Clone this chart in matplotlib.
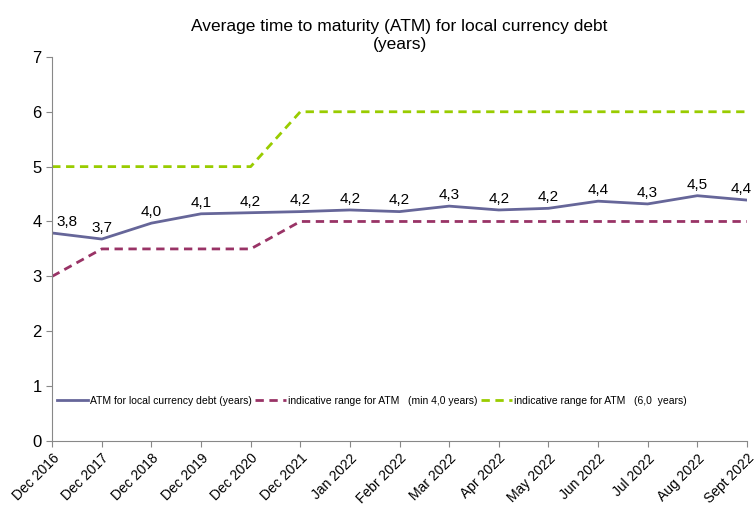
import matplotlib.pyplot as plt

dates = ["Dec 2016", "Dec 2017", "Dec 2018", "Dec 2019", "Dec 2020", "Dec 2021",
         "Jan 2022", "Febr 2022", "Mar 2022", "Apr 2022", "May 2022", "Jun 2022",
         "Jul 2022", "Aug 2022", "Sept 2022"]
atm = [3.79, 3.68, 3.97, 4.14, 4.16, 4.18, 4.21, 4.18, 4.28, 4.21, 4.24, 4.37, 4.32, 4.47, 4.39]
range_min = [3.0, 3.5, 3.5, 3.5, 3.5, 4.0, 4.0, 4.0, 4.0, 4.0, 4.0, 4.0, 4.0, 4.0, 4.0]
range_max = [5.0, 5.0, 5.0, 5.0, 5.0, 6.0, 6.0, 6.0, 6.0, 6.0, 6.0, 6.0, 6.0, 6.0, 6.0]

plt.rcParams['font.family'] = ['Liberation Sans', 'DejaVu Sans']

fig = plt.figure(figsize=(7.56, 5.08), dpi=100)
ax = fig.add_axes([0.069, 0.132, 0.919, 0.756])
x = list(range(len(dates)))

ax.plot(x, atm, color='#666699', lw=2, label='ATM for local currency debt (years)')
ax.plot(x, range_min, color='#993366', lw=2, ls=(0, (3, 2)), label='indicative range for ATM   (min 4,0 years)')
ax.plot(x, range_max, color='#99CC00', lw=2, ls=(0, (3, 2)), label='indicative range for ATM   (6,0  years)')

for i, v in enumerate(atm):
    dx = 0
    if i == 0:
        dx = 11
    elif i == len(atm) - 1:
        dx = -4
    ax.annotate(('%.1f' % v).replace('.', ','), (i, v), xytext=(dx, 3),
                textcoords='offset points', ha='center', va='bottom',
                fontsize=11, annotation_clip=False)

ax.set_xlim(0, len(dates) - 1)
ax.set_ylim(0, 7)
ax.set_yticks(range(8))
ax.set_xticks(x)
ax.set_xticklabels(dates, rotation=45, ha='right', rotation_mode='anchor', fontsize=10)
ax.tick_params(axis='y', labelsize=12, colors='#888888', labelcolor='black', length=4)
ax.tick_params(axis='x', colors='#888888', labelcolor='black', length=4)
for s in ['top', 'right']:
    ax.spines[s].set_visible(False)
for s in ['left', 'bottom']:
    ax.spines[s].set_color('#888888')

ax.set_title('Average time to maturity (ATM) for local currency debt\n(years)', fontsize=12.5, pad=6)
ax.legend(loc='center', bbox_to_anchor=(0.46, 0.105), ncol=3, frameon=False,
          fontsize=7.5, handlelength=3, columnspacing=0.3, handletextpad=0.2)

fig.savefig('out.png', dpi=100)
